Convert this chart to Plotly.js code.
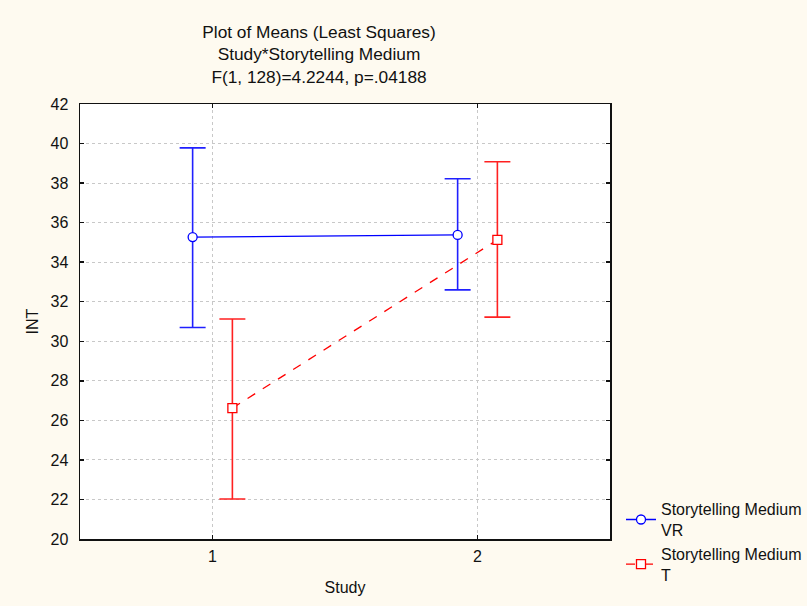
<!DOCTYPE html>
<html>
<head>
<meta charset="utf-8">
<script src="https://cdn.plot.ly/plotly-3.0.1.min.js"></script>
<style>html,body{margin:0;padding:0;background:#fefaf0;}#chart{width:807px;height:606px;}</style>
</head>
<body>
<div id="chart"></div>
<script>
// Data
const studies = [1, 2];
const seriesNames = ["Storytelling Medium<br>VR", "Storytelling Medium<br>T"];
const vrMean  = [35.27, 35.38];
const vrUpper = [39.78, 38.22];
const vrLower = [30.70, 32.60];
const tMean   = [26.62, 35.13];
const tUpper  = [31.13, 39.08];
const tLower  = [22.02, 31.22];
const titleLines = ["Plot of Means (Least Squares)", "Study*Storytelling Medium", "F(1, 128)=4.2244, p=.04188"];
const yTicks = [20, 22, 24, 26, 28, 30, 32, 34, 36, 38, 40, 42];
const xTicks = [1, 2];

const offset = 0.075;
const font = {family: "Liberation Sans, Arial, sans-serif", size: 16, color: "#111"};

function errs(mean, up, lo) {
  return {
    type: "data", symmetric: false,
    array: mean.map((m, i) => up[i] - m),
    arrayminus: mean.map((m, i) => m - lo[i])
  };
}

const traces = [
  {
    x: studies.map(s => s - offset), y: vrMean, name: seriesNames[0],
    type: "scatter", mode: "lines+markers",
    line: {color: "#0000ff", width: 1.3},
    marker: {symbol: "circle", size: 9, color: "#ffffff", line: {color: "#0000ff", width: 1.3}},
    error_y: Object.assign(errs(vrMean, vrUpper, vrLower), {color: "#2020ff", thickness: 1.6, width: 13})
  },
  {
    x: studies.map(s => s + offset), y: tMean, name: seriesNames[1],
    type: "scatter", mode: "lines+markers",
    line: {color: "#ff0000", width: 1.3, dash: "dash"},
    marker: {symbol: "square", size: 9, color: "#ffffff", line: {color: "#ff0000", width: 1.3}},
    error_y: Object.assign(errs(tMean, tUpper, tLower), {color: "#ff2020", thickness: 1.6, width: 13})
  }
];

const W = 807, H = 606;
const layout = {
  width: W, height: H,
  paper_bgcolor: "#fefaf0", plot_bgcolor: "#ffffff",
  margin: {l: 80, r: 197, t: 104, b: 67, pad: 0, autoexpand: false},
  font: font,
  showlegend: true,
  title: {
    text: titleLines.join("<br>"),
    font: {family: "Liberation Sans, Arial, sans-serif", size: 17.3, color: "#111"},
    xref: "paper", x: (319 - 80) / 530, xanchor: "center",
    yref: "container", y: 1 - 38 / H, yanchor: "top"
  },
  xaxis: {
    range: [0.5, 2.5], tickvals: xTicks, ticktext: xTicks.map(String),
    showgrid: true, gridcolor: "#c8c8c8", griddash: "dot", gridwidth: 1,
    zeroline: false, showline: true, linecolor: "#111", linewidth: 1.5, mirror: "ticks",
    ticks: "inside", ticklen: 4, tickcolor: "#111", tickwidth: 1.5,
    ticklabelstandoff: 2,
    title: {text: "Study", font: font, standoff: 18}
  },
  yaxis: {
    range: [20, 42], tickvals: yTicks, ticktext: yTicks.map(String),
    showgrid: true, gridcolor: "#c8c8c8", griddash: "dot", gridwidth: 1,
    zeroline: false, showline: true, linecolor: "#111", linewidth: 1.5, mirror: "ticks",
    ticks: "inside", ticklen: 4, tickcolor: "#111", tickwidth: 1.5,
    ticklabelstandoff: 7,
    title: {text: "INT", font: font, standoff: 8}
  },
  legend: {
    x: (621 - 80) / 530, xanchor: "left",
    y: (538.7 - 492) / 434.2, yanchor: "top",
    bgcolor: "rgba(0,0,0,0)", borderwidth: 0,
    font: font, tracegroupgap: 0, itemwidth: 30
  }
};

Plotly.newPlot("chart", traces, layout, {displayModeBar: false, staticPlot: true});
</script>
</body>
</html>
